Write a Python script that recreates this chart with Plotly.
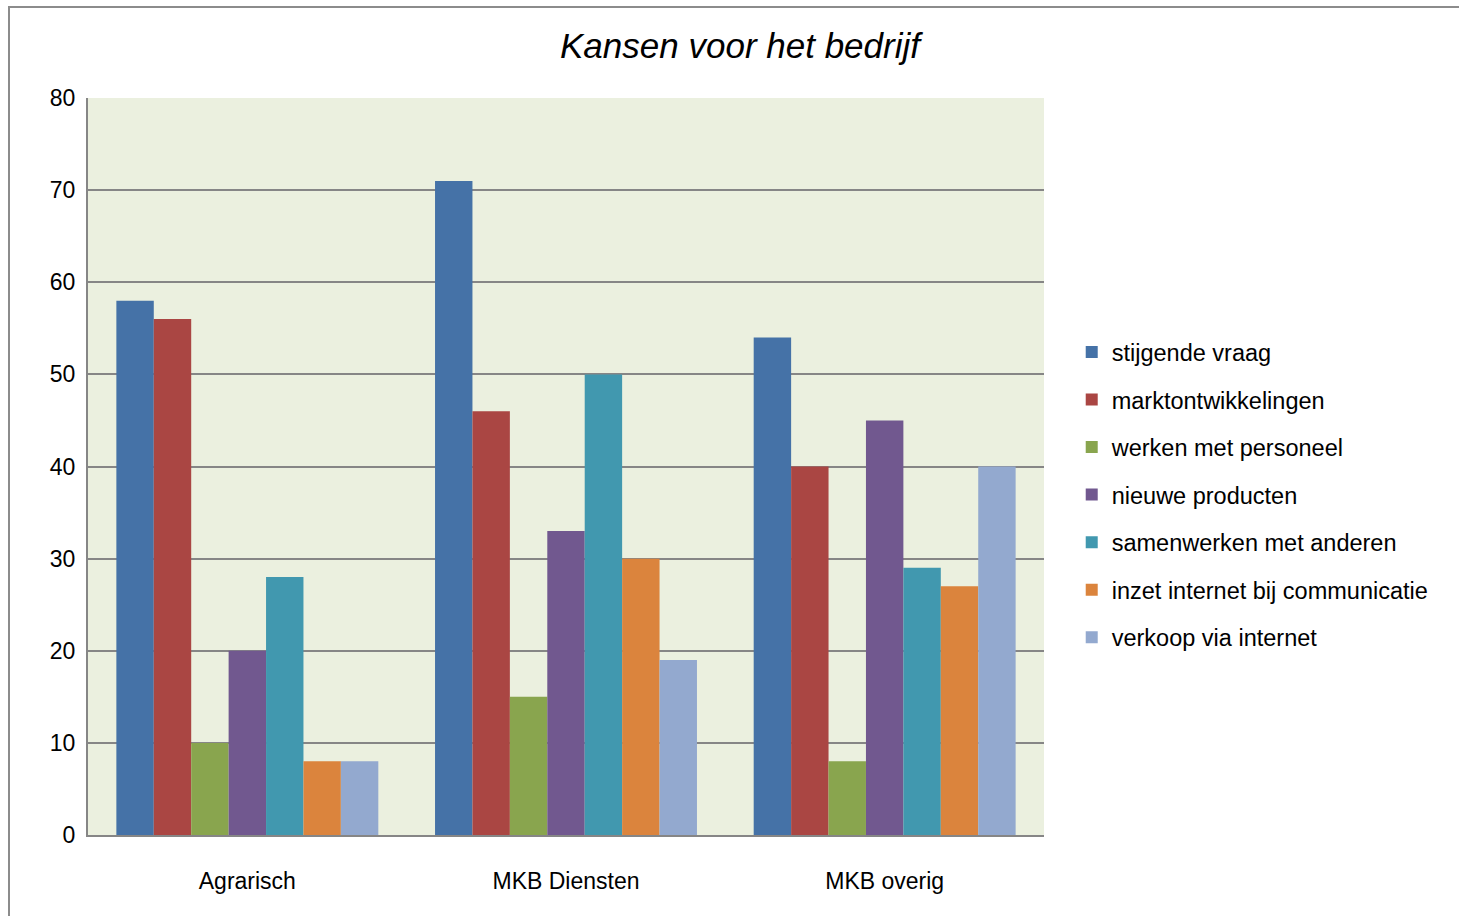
import plotly.graph_objects as go

categories = ["Agrarisch", "MKB Diensten", "MKB overig"]
series_names = [
    "stijgende vraag",
    "marktontwikkelingen",
    "werken met personeel",
    "nieuwe producten",
    "samenwerken met anderen",
    "inzet internet bij communicatie",
    "verkoop via internet",
]
stijgende_vraag = [58, 71, 54]
marktontwikkelingen = [56, 46, 40]
werken_met_personeel = [10, 15, 8]
nieuwe_producten = [20, 33, 45]
samenwerken_met_anderen = [28, 50, 29]
inzet_internet = [8, 30, 27]
verkoop_via_internet = [8, 19, 40]
series_values = [stijgende_vraag, marktontwikkelingen, werken_met_personeel,
                 nieuwe_producten, samenwerken_met_anderen, inzet_internet,
                 verkoop_via_internet]
colors = ["#4572A7", "#AA4643", "#89A54E", "#71588F", "#4198AF", "#DB843D", "#93A9CF"]
y_ticks = [0, 10, 20, 30, 40, 50, 60, 70, 80]

fig = go.Figure()
for i, (name, vals) in enumerate(zip(series_names, series_values)):
    fig.add_trace(go.Bar(
        x=categories, y=vals, name=name,
        marker=dict(color=colors[i], line=dict(width=0)),
        legendgroup=f"g{i}",
    ))

FONT = "Liberation Sans, Arial, sans-serif"
fig.update_layout(
    width=1459, height=916,
    margin=dict(l=88, r=415, t=98, b=81, autoexpand=False),
    paper_bgcolor="white",
    plot_bgcolor="#EBF0DF",
    barmode="group",
    bargap=0.178,
    bargroupgap=0,
    font=dict(family=FONT, size=20, color="#000000"),
    title=dict(text="<i>Kansen voor het bedrijf</i>", x=740/1459, xanchor="center",
               y=1 - 46/916, yanchor="middle",
               font=dict(family=FONT, size=35, color="#000000")),
    legend=dict(x=1.029, xanchor="left", y=0.685, yanchor="top",
                font=dict(family=FONT, size=23.5), tracegroupgap=14,
                bgcolor="rgba(0,0,0,0)", itemwidth=30),
    showlegend=True,
)
fig.update_xaxes(
    showline=True, linecolor="#868686", linewidth=2,
    ticks="", tickfont=dict(size=23), ticklabelstandoff=24,
    mirror=False,
)
fig.update_yaxes(
    range=[0, 80], tickvals=y_ticks,
    showgrid=True, gridcolor="#868686", gridwidth=1.5,
    showline=True, linecolor="#868686", linewidth=2,
    ticks="", tickfont=dict(size=23), ticklabelstandoff=6,
    zeroline=False,
)
# outer chart border (left and top edges visible)
fig.add_shape(type="rect", xref="paper", yref="paper",
              x0=(9 - 88) / 956, x1=1.6, y0=-0.3, y1=(835 - 7) / 737,
              line=dict(color="#8C8C8C", width=2), fillcolor="rgba(0,0,0,0)", layer="below")

fig.write_html("out.html", config={"displayModeBar": False},
               post_script="document.body.style.margin='0';")
